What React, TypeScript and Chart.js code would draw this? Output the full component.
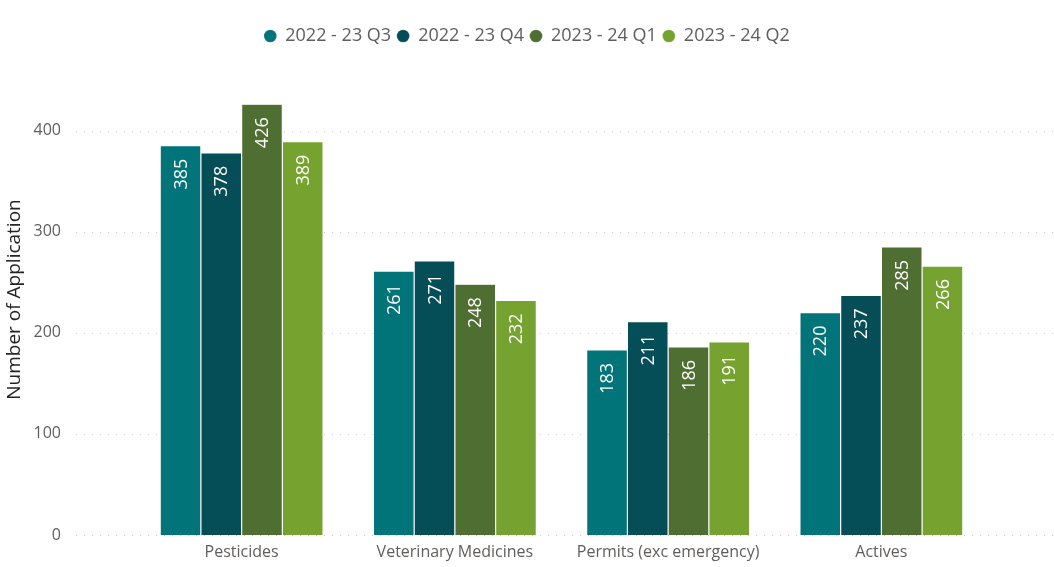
import React, { useEffect, useRef } from "react";
import { Chart, registerables } from "chart.js";

Chart.register(...registerables);

const categories = ["Pesticides", "Veterinary Medicines", "Permits (exc emergency)", "Actives"];
const seriesNames = ["2022 - 23 Q3", "2022 - 23 Q4", "2023 - 24 Q1", "2023 - 24 Q2"];
const q3Values = [385, 261, 183, 220];
const q4Values = [378, 271, 211, 237];
const q1Values = [426, 248, 186, 285];
const q2Values = [389, 232, 191, 266];
const seriesColors = ["#01747A", "#054D57", "#4F6E32", "#76A32F"];
const yTicks = [0, 100, 200, 300, 400];
const yTitle = "Number of Application";

const FONT = "'Segoe UI', 'Open Sans', sans-serif";

const barLabels = {
  id: "barLabels",
  afterDatasetsDraw(chart: any) {
    const ctx = chart.ctx;
    ctx.save();
    ctx.fillStyle = "#FFFFFF";
    ctx.font = `18px ${FONT}`;
    ctx.textAlign = "right";
    ctx.textBaseline = "middle";
    chart.data.datasets.forEach((ds: any, di: number) => {
      const meta = chart.getDatasetMeta(di);
      meta.data.forEach((bar: any, i: number) => {
        ctx.save();
        ctx.translate(bar.x, bar.y + 13);
        ctx.rotate(-Math.PI / 2);
        ctx.fillText(String(ds.data[i]), 0, 1);
        ctx.restore();
      });
    });
    ctx.restore();
  },
};

const axisTitle = {
  id: "axisTitle",
  afterDraw(chart: any) {
    const ctx = chart.ctx;
    const ca = chart.chartArea;
    ctx.save();
    ctx.fillStyle = "#252423";
    ctx.font = `19px ${FONT}`;
    ctx.textAlign = "center";
    ctx.textBaseline = "middle";
    ctx.translate(15, (ca.top + ca.bottom) / 2 - 8);
    ctx.rotate(-Math.PI / 2);
    ctx.fillText(yTitle, 0, 0);
    ctx.restore();
  },
};

const fullGrid = {
  id: "fullGrid",
  beforeDatasetsDraw(chart: any) {
    const ctx = chart.ctx;
    const y = chart.scales.y;
    ctx.save();
    ctx.strokeStyle = "#C8C6C4";
    ctx.lineWidth = 1;
    ctx.setLineDash([1, 7]);
    yTicks.forEach((t) => {
      const py = Math.round(y.getPixelForValue(t)) + 0.5;
      ctx.beginPath();
      ctx.moveTo(76, py);
      ctx.lineTo(1054, py);
      ctx.stroke();
    });
    ctx.restore();
  },
};

const legendSpace = {
  id: "legendSpace",
  beforeInit(chart: any) {
    const orig = chart.legend.fit;
    chart.legend.fit = function () {
      orig.call(this);
      this.height = 59;
    };
  },
};

export default function App() {
  const ref = useRef<HTMLCanvasElement | null>(null);
  useEffect(() => {
    const valuesList = [q3Values, q4Values, q1Values, q2Values];
    const chart = new Chart(ref.current as HTMLCanvasElement, {
      type: "bar",
      data: {
        labels: categories,
        datasets: seriesNames.map((name, i) => ({
          label: name,
          data: valuesList[i],
          backgroundColor: seriesColors[i],
          borderColor: "rgba(255,255,255,0.3)",
          borderWidth: 0.6,
          categoryPercentage: 0.764,
          barPercentage: 1.0,
        })),
      },
      options: {
        animation: false,
        responsive: false,
        maintainAspectRatio: false,
        layout: { padding: { top: 21, right: 0, bottom: 0, left: 0 } },
        plugins: {
          tooltip: { enabled: false },
          legend: {
            position: "top",
            labels: {
              usePointStyle: true,
              pointStyle: "circle",
              boxWidth: 12,
              boxHeight: 9,
              padding: 6,
              color: "#605E5C",
              font: { family: FONT, size: 18 },
            },
          },
        },
        scales: {
          x: {
            afterFit(scale: any) {
              scale.height = 32;
              scale.paddingLeft = 0;
              scale.paddingRight = 0;
            },
            grid: { display: false, drawTicks: false },
            border: { display: false },
            ticks: { color: "#605E5C", font: { family: FONT, size: 16 }, padding: 8, maxRotation: 0 },
          },
          y: {
            min: 0,
            max: 450,
            afterFit(scale: any) {
              scale.width = 135;
              scale.paddingTop = 0;
              scale.paddingBottom = 0;
            },
            afterBuildTicks(scale: any) {
              scale.ticks = yTicks.map((v) => ({ value: v }));
            },
            grid: { display: false, drawTicks: false },
            border: { display: false },
            ticks: { color: "#605E5C", font: { family: FONT, size: 16 }, padding: 74 },
          },
          yRight: {
            position: "right",
            min: 0,
            max: 450,
            afterFit(scale: any) {
              scale.width = 66;
              scale.paddingTop = 0;
              scale.paddingBottom = 0;
            },
            grid: { display: false, drawTicks: false },
            border: { display: false },
            ticks: { display: false },
          },
        },
      },
      plugins: [barLabels, fullGrid, legendSpace, axisTitle],
    } as any);
    return () => chart.destroy();
  }, []);
  return (
    <div style={{ position: "fixed", left: 0, top: 0, width: 1054, height: 567, background: "#fff" }}>
      <canvas ref={ref} width={1054} height={567} style={{ width: 1054, height: 567 }} />
    </div>
  );
}
